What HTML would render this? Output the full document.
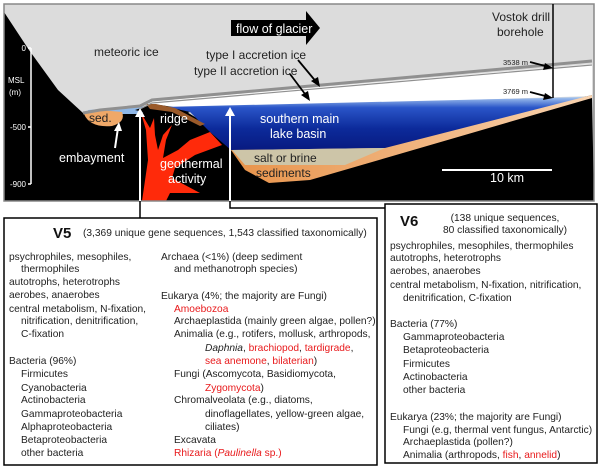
<!DOCTYPE html>
<html><head><meta charset="utf-8"><style>
html,body{margin:0;padding:0;background:#fff;}
svg{display:block;font-family:"Liberation Sans",sans-serif;}
.t{font-size:10.2px;fill:#222;}
.r{fill:#e8191b;}
.w{fill:#fff;font-size:12.5px;}
</style></head><body>
<svg width="600" height="469" viewBox="0 0 600 469" xmlns="http://www.w3.org/2000/svg">
<defs>
<linearGradient id="lake" x1="0" y1="0" x2="0" y2="1">
<stop offset="0" stop-color="#a8c8f0"/><stop offset="0.2" stop-color="#2a55c8"/><stop offset="0.6" stop-color="#0c2a9a"/><stop offset="1" stop-color="#081a80"/>
</linearGradient>
<linearGradient id="sed" x1="0" y1="0" x2="1" y2="0">
<stop offset="0" stop-color="#e8934a"/><stop offset="1" stop-color="#f8d3b0"/>
</linearGradient>
</defs>
<rect x="4" y="4" width="590" height="197" fill="#dcdcdc"/>
<polygon points="146,102 592,64 592,96 146,110" fill="#fff"/>
<polygon points="4,12 29,50 58,90 83,113 100,111 135,108 160,105 180,108 200,120 231,150 269,182 308,178 385,150 592,95 594,201 4,201" fill="#000"/>
<polygon points="162,107 585,97 385,150 231,150 210,132 190,112" fill="url(#lake)"/>
<polygon points="231,150 385,148 592,95 592,98 310,180 269,183 245,170" fill="url(#sed)"/>
<polygon points="232,150 385,148 345,165 245,165" fill="#cdc5a8"/>
<polygon points="88,110 140,106 150,108 140,114 88,114" fill="#8fb8e8"/>
<path d="M84,114 Q86,110 100,110 L122,112 Q126,122 112,126 Q90,128 84,114Z" fill="#efa868"/>
<path d="M135,110 L150,105 L168,107 L190,112 L175,118 L150,114Z" fill="#000"/>
<path d="M146,104 L156,104 L175,108 L205,124 L200,126 L172,112 L150,109Z" fill="#9a5a2a"/>
<path d="M142,201 L148,160 L146,130 L141,113 L150,128 L154,118 L155,135 L158,150 L163,135 L172,125 L166,140 L163,158 L178,150 L190,140 L210,132 L222,145 L195,155 L175,168 L172,178 L185,185 L200,193 L170,193 L166,201Z" fill="#ff2a0a"/>
<polyline points="83,113 100,110 140,106 152,100 592,61" fill="none" stroke="#909090" stroke-width="3"/>
<polyline points="140,109 152,103 592,65" fill="none" stroke="#909090" stroke-width="1.2"/>
<rect x="4" y="4" width="590" height="197" fill="none" stroke="#888" stroke-width="1.5"/>
<polygon points="231,20 306,20 306,11 320,28 306,45 306,36 231,36" fill="#000"/>
<text x="236" y="33" fill="#fff" font-size="12.5">flow of glacier</text>
<text x="492" y="21" font-size="12" fill="#222">Vostok drill</text>
<text x="497" y="36" font-size="12" fill="#222">borehole</text>
<line x1="553" y1="4" x2="553" y2="98" stroke="#000" stroke-width="1.5"/>
<text x="94" y="56" font-size="12" fill="#222">meteoric ice</text>
<text x="206" y="59" font-size="12" fill="#222">type I accretion ice</text>
<text x="194" y="75" font-size="12" fill="#222">type II accretion ice</text>
<line x1="298" y1="60" x2="318" y2="84" stroke="#000" stroke-width="1.8"/><polygon points="320,87 311,81 318,77" fill="#000"/>
<line x1="290" y1="74" x2="308" y2="98" stroke="#000" stroke-width="1.8"/><polygon points="310,101 301,95 308,91" fill="#000"/>
<text x="503" y="65" font-size="7.5" fill="#222">3538 m</text>
<line x1="530" y1="62" x2="549" y2="67" stroke="#000" stroke-width="1.8"/><polygon points="553,68 543,70 545,63" fill="#000"/>
<text x="503" y="94" font-size="7.5" fill="#222">3769 m</text>
<line x1="530" y1="92" x2="549" y2="97" stroke="#000" stroke-width="1.8"/><polygon points="553,98 543,100 545,93" fill="#000"/>
<line x1="31" y1="48" x2="31" y2="184" stroke="#fff" stroke-width="1.5"/>
<line x1="28" y1="48" x2="31" y2="48" stroke="#fff" stroke-width="1.5"/>
<line x1="28" y1="127" x2="31" y2="127" stroke="#fff" stroke-width="1.5"/>
<line x1="28" y1="184" x2="31" y2="184" stroke="#fff" stroke-width="1.5"/>
<text x="26" y="51" font-size="8" fill="#fff" text-anchor="end">0</text>
<text x="26" y="130" font-size="8" fill="#fff" text-anchor="end">-500</text>
<text x="26" y="187" font-size="8" fill="#fff" text-anchor="end">-900</text>
<text x="8" y="83" font-size="8" fill="#fff">MSL</text>
<text x="9" y="95" font-size="8" fill="#fff">(m)</text>
<text x="89" y="122" font-size="12" fill="#222">sed.</text>
<text x="160" y="123" class="w">ridge</text>
<text x="260" y="123" class="w">southern main</text>
<text x="270" y="138" class="w">lake basin</text>
<text x="59" y="162" class="w">embayment</text>
<line x1="115" y1="148" x2="118" y2="128" stroke="#fff" stroke-width="2"/><polygon points="119,122 114,131 122,131" fill="#fff"/>
<text x="160" y="168" class="w">geothermal</text>
<text x="168" y="183" class="w">activity</text>
<text x="254" y="162" font-size="12" fill="#222">salt or brine</text>
<text x="256" y="177" font-size="12" fill="#222">sediments</text>
<line x1="442" y1="170" x2="552" y2="170" stroke="#fff" stroke-width="2"/>
<text x="490" y="182" class="w">10 km</text>
<line x1="140" y1="201" x2="140" y2="114" stroke="#fff" stroke-width="2"/><polygon points="140,108 135,117 145,117" fill="#fff"/>
<line x1="230" y1="201" x2="230" y2="113" stroke="#fff" stroke-width="2"/><polygon points="230,107 225,116 235,116" fill="#fff"/>
<polyline points="140,201 140,218" fill="none" stroke="#000" stroke-width="1.5"/>
<polyline points="230,201 230,208 385,208" fill="none" stroke="#000" stroke-width="1.5"/>
<rect x="4" y="218" width="373" height="247" fill="none" stroke="#000" stroke-width="1.5"/>
<rect x="385" y="204" width="212" height="259" fill="none" stroke="#000" stroke-width="1.5"/>
<text x="53" y="238" font-size="15" font-weight="bold" fill="#111">V5</text>
<text x="83" y="236" class="t">(3,369 unique gene sequences, 1,543 classified taxonomically)</text>
<g class="t">
<text x="9" y="260">psychrophiles, mesophiles,</text>
<text x="21" y="272">thermophiles</text>
<text x="9" y="285">autotrophs, heterotrophs</text>
<text x="9" y="298">aerobes, anaerobes</text>
<text x="9" y="312">central metabolism, N-fixation,</text>
<text x="21" y="324">nitrification, denitrification,</text>
<text x="21" y="337">C-fixation</text>
<text x="9" y="364">Bacteria (96%)</text>
<text x="21" y="377">Firmicutes</text>
<text x="21" y="391">Cyanobacteria</text>
<text x="21" y="403">Actinobacteria</text>
<text x="21" y="417">Gammaproteobacteria</text>
<text x="21" y="430">Alphaproteobacteria</text>
<text x="21" y="443">Betaproteobacteria</text>
<text x="21" y="456">other bacteria</text>
<text x="161" y="260">Archaea (&lt;1%) (deep sediment</text>
<text x="174" y="272">and methanotroph species)</text>
<text x="161" y="299">Eukarya (4%; the majority are Fungi)</text>
<text x="174" y="312" class="r">Amoebozoa</text>
<text x="174" y="324">Archaeplastida (mainly green algae, pollen?)</text>
<text x="174" y="337">Animalia (e.g., rotifers, mollusk, arthropods,</text>
<text x="205" y="351"><tspan font-style="italic">Daphnia</tspan>, <tspan class="r">brachiopod</tspan>, <tspan class="r">tardigrade</tspan>,</text>
<text x="205" y="364"><tspan class="r">sea anemone</tspan>, <tspan class="r">bilaterian</tspan>)</text>
<text x="174" y="377">Fungi (Ascomycota, Basidiomycota,</text>
<text x="205" y="391"><tspan class="r">Zygomycota</tspan>)</text>
<text x="174" y="403">Chromalveolata (e.g., diatoms,</text>
<text x="205" y="417">dinoflagellates, yellow-green algae,</text>
<text x="205" y="430">ciliates)</text>
<text x="174" y="443">Excavata</text>
<text x="174" y="456" class="r">Rhizaria (<tspan font-style="italic">Paulinella</tspan> sp.)</text>
</g>
<text x="400" y="226" font-size="15" font-weight="bold" fill="#111">V6</text>
<g class="t">
<text x="505" y="221" text-anchor="middle">(138 unique sequences,</text>
<text x="505" y="233" text-anchor="middle">80 classified taxonomically)</text>
<text x="390" y="249">psychrophiles, mesophiles, thermophiles</text>
<text x="390" y="261">autotrophs, heterotrophs</text>
<text x="390" y="274">aerobes, anaerobes</text>
<text x="390" y="288">central metabolism, N-fixation, nitrification,</text>
<text x="403" y="301">denitrification, C-fixation</text>
<text x="390" y="327">Bacteria (77%)</text>
<text x="403" y="340">Gammaproteobacteria</text>
<text x="403" y="353">Betaproteobacteria</text>
<text x="403" y="367">Firmicutes</text>
<text x="403" y="380">Actinobacteria</text>
<text x="403" y="393">other bacteria</text>
<text x="390" y="420">Eukarya (23%; the majority are Fungi)</text>
<text x="403" y="433">Fungi (e.g, thermal vent fungus, Antarctic)</text>
<text x="403" y="445">Archaeplastida (pollen?)</text>
<text x="403" y="458">Animalia (arthropods, <tspan class="r">fish</tspan>, <tspan class="r">annelid</tspan>)</text>
</g>
</svg>
</body></html>
